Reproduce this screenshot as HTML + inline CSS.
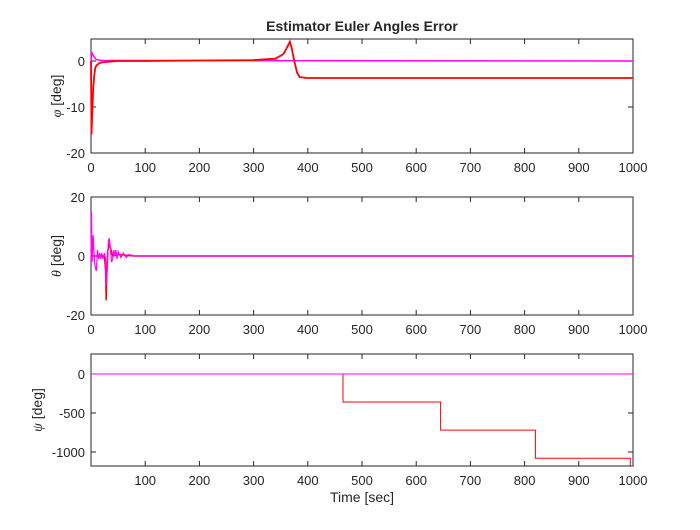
<!DOCTYPE html>
<html><head><meta charset="utf-8"><style>
body{margin:0;background:#fff;width:700px;height:525px;overflow:hidden}
text{font-family:"Liberation Sans",Arial,sans-serif;fill:#262626}
</style></head><body>
<svg id="chart" width="700" height="525" xmlns="http://www.w3.org/2000/svg">
<rect width="700" height="525" fill="#fff"/>
</svg>
<script>
const xTicks=[0,100,200,300,400,500,600,700,800,900,1000];
const phiTicks=[-20,-10,0];
const thetaTicks=[-20,0,20];
const psiTicks=[-1000,-500,0];
const phiRedT=[0,1,2,4,6,8,10,15,20,30,50,100,200,300,340,355,362,367,370,375,380,385,400,1000];
const phiRedV=[0,-16,-12,-6,-3,-1.5,-1,-0.5,-0.3,-0.2,0,0,0.1,0.2,0.5,1.5,3,4.2,3,0,-2.5,-3.5,-3.7,-3.7];
const phiMagT=[0,1,3,6,10,20,1000];
const phiMagV=[-4,2,1.5,0.8,0.3,0.1,0];
const thetaMagT=[0,1,2,4,6,8,10,12,14,16,18,20,22,25,27,28,30,32,34,36,38,40,42,44,46,48,50,55,60,65,70,80,1000];
const thetaMagV=[-2,15,-2,7,-1,-4,-5,2,-1,1,-1,1,-1,1,-1,-10,-5,5,6,2,-2,-1,2,0,2,-1,1.5,-0.5,1,-0.5,0.5,0,0];
const thetaRedT=[0,25,27,28,29,31,34,40,50,80,1000];
const thetaRedV=[0,0,-5,-15,-6,2,4,0,0.5,0,0];
const psiRedT=[0,465,465,645,645,820,820,995,995];
const psiRedV=[0,0,-360,-360,-720,-720,-1080,-1080,-1180];
const psiMagT=[0,1000];
const psiMagV=[0,0];

const NS="http://www.w3.org/2000/svg";
const svg=document.getElementById('chart');
const L=91,R=633;
function mk(tag,attrs){const e=document.createElementNS(NS,tag);for(const k in attrs)e.setAttribute(k,attrs[k]);svg.appendChild(e);return e;}
function xs(t){return L+(t/1000)*(R-L);}
function axes(name,top,bot,ymin,ymax,yt,showZero,label,lx){
  const ys=v=>bot-(v-ymin)/(ymax-ymin)*(bot-top);
  const bg=mk('rect',{x:L,y:top,width:R-L,height:bot-top,fill:'#fff',stroke:'#262626','stroke-width':1});
  
  
  xTicks.forEach(t=>{
    const x=xs(t);
    mk('line',{x1:x,x2:x,y1:bot,y2:bot-5,stroke:'#262626'});
    mk('line',{x1:x,x2:x,y1:top,y2:top+5,stroke:'#262626'});
    if(t===0&&!showZero)return;
    const tx=mk('text',{x:x,y:bot+19,'text-anchor':'middle','font-size':13});
    tx.textContent=t;
    
    
  });
  yt.forEach(v=>{
    const y=ys(v);
    mk('line',{x1:L,x2:L+5,y1:y,y2:y,stroke:'#262626'});
    mk('line',{x1:R,x2:R-5,y1:y,y2:y,stroke:'#262626'});
    const tx=mk('text',{x:L-6,y:y+5,'text-anchor':'end','font-size':13});
    tx.textContent=v;
    
    
  });
  const yl=mk('text',{x:0,y:0,'text-anchor':'middle','font-size':14,transform:`translate(${lx},${(top+bot)/2}) rotate(-90)`});
  yl.innerHTML=label;
  
  
  return ys;
}
function line(name,T,V,ys,color,w){
  const d=T.map((t,i)=>(i?'L':'M')+xs(t).toFixed(1)+','+ys(V[i]).toFixed(1)).join('');
  const p=mk('path',{d:d,fill:'none',stroke:color,'stroke-width':w});
  
  
}
const y1=axes('phi',39,153,-20,4.78,phiTicks,true,'<tspan font-style="italic" font-family="Liberation Serif">φ</tspan> [deg]',61);
line('phi-magenta-line',phiMagT,phiMagV,y1,'#ff00ff',1.5);
line('phi-red-line',phiRedT,phiRedV,y1,'#ff0000',1.8);
const y2=axes('theta',197,315,-20,20,thetaTicks,true,'<tspan font-style="italic" font-family="Liberation Serif">θ</tspan> [deg]',61);
line('theta-red-line',thetaRedT,thetaRedV,y2,'#ff0000',1.5);
line('theta-magenta-line',thetaMagT,thetaMagV,y2,'#ff00ff',1.2);
const y3=axes('psi',354,466,-1180,256,psiTicks,false,'<tspan font-style="italic" font-family="Liberation Serif">ψ</tspan> [deg]',42);
line('psi-red-line',psiRedT,psiRedV,y3,'#ff0000',1);
line('psi-magenta-line',psiMagT,psiMagV,y3,'#ff00ff',1);
const ti=mk('text',{x:362,y:31,'text-anchor':'middle','font-size':14,'font-weight':'bold'});
ti.textContent='Estimator Euler Angles Error';


const xl=mk('text',{x:362,y:502,'text-anchor':'middle','font-size':14});
xl.textContent='Time [sec]';


</script>
</body></html>
